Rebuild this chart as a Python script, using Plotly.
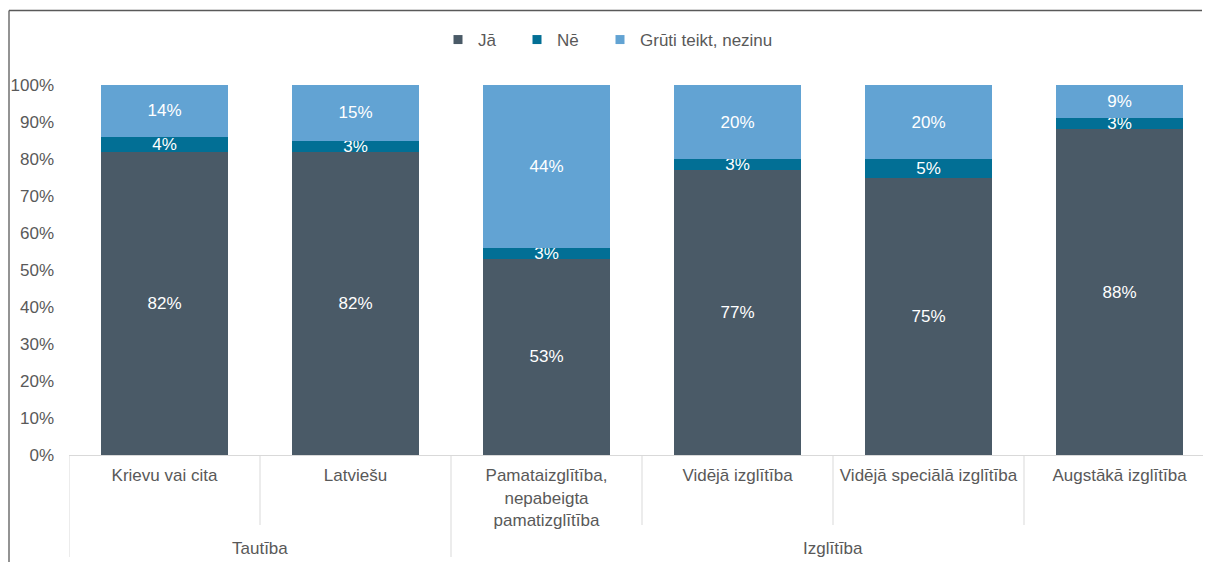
import plotly.graph_objects as go

categories = ["Krievu vai cita", "Latviešu",
              "Pamataizglītība,<br>nepabeigta<br>pamatizglītība",
              "Vidējā izglītība", "Vidējā speciālā izglītība", "Augstākā izglītība"]
groups = ["Tautība", "Izglītība"]
group_sizes = [2, 4]
series_names = ["Jā", "Nē", "Grūti teikt, nezinu"]
ja = [82, 82, 53, 77, 75, 88]
ne = [4, 3, 3, 3, 5, 3]
gruti = [14, 15, 44, 20, 20, 9]
colors = ["#4A5A67", "#026F95", "#62A3D3"]
ytick_vals = [0, 10, 20, 30, 40, 50, 60, 70, 80, 90, 100]
ytick_text = [f"{v}%" for v in ytick_vals]

FONT = "Liberation Sans, Arial, sans-serif"
GRAY = "#595959"

# page offset of the plot div (browser body margin); keep the figure inside the window
OFF = 8
PAGE_W, PAGE_H = 1211, 571
W, H = PAGE_W - 2 * OFF, PAGE_H - 2 * OFF
plot_left, plot_top, plot_bottom = 69, 85, 455
L = plot_left - OFF
T = plot_top - OFF
ph = plot_bottom - plot_top
B = H - T - ph
R = 0
pw = W - L - R
unit = 191.0
xmax = -0.5 + pw / unit
fig_right_page = OFF + W
fig_bottom_page = OFF + H


def py(page_y):
    return (plot_bottom - page_y) / ph


def px(page_x):
    return (page_x - plot_left) / pw


legend_text_x = [478, 557, 640]
legend_ids = ["legend", "legend2", "legend3"]

fig = go.Figure()
for name, vals, col, lid in zip(series_names, [ja, ne, gruti], colors, legend_ids):
    fig.add_trace(go.Bar(
        x=categories, y=vals, name=name, marker=dict(color=col, line=dict(width=0)),
        text=[f"{v}%" for v in vals], textposition="inside", insidetextanchor="middle",
        textangle=0, textfont=dict(color="white", size=17, family=FONT),
        showlegend=False, hoverinfo="skip"))
    # legend entry with small square marker
    fig.add_trace(go.Scatter(
        x=[None], y=[None], mode="markers", name=name, legend=lid,
        marker=dict(symbol="square", size=9, color=col), showlegend=True))

shapes = []
for i in range(len(categories)):
    xpos = i - 0.5
    outer = xpos in (-0.5, 1.5)
    shapes.append(dict(type="line", xref="x", yref="paper", x0=xpos, x1=xpos,
                       y0=0, y1=py(557 if outer else 525),
                       line=dict(color="#D9D9D9", width=1)))
# outer frame: only its left and top edges fall inside the picture
frame_x, frame_y = OFF + 1, 10.5
shapes.append(dict(type="line", xref="paper", yref="paper",
                   x0=px(frame_x), x1=px(frame_x), y0=py(frame_y), y1=py(fig_bottom_page - 1),
                   line=dict(color="#595959", width=1.3)))
shapes.append(dict(type="line", xref="paper", yref="paper",
                   x0=px(frame_x), x1=px(fig_right_page - 1), y0=py(frame_y), y1=py(frame_y),
                   line=dict(color="#595959", width=1.3)))

annotations = []
start = 0
for g, n in zip(groups, group_sizes):
    center = start + (n - 1) / 2
    annotations.append(dict(text=g, x=center, xref="x", y=py(548), yref="paper",
                            showarrow=False, yanchor="middle",
                            font=dict(size=17, color=GRAY, family=FONT)))
    start += n

legend_common = dict(orientation="h", xanchor="left", y=py(40), yanchor="middle",
                     font=dict(size=17, color=GRAY, family=FONT), itemclick=False,
                     itemdoubleclick=False, bgcolor="rgba(0,0,0,0)")

fig.update_layout(
    width=W, height=H,
    margin=dict(l=L, r=R, t=T, b=B, pad=0),
    barmode="stack", bargap=0.33,
    plot_bgcolor="white", paper_bgcolor="white",
    font=dict(family=FONT, size=17, color=GRAY),
    showlegend=True,
    legend=dict(x=px(legend_text_x[0] - 40), **legend_common),
    legend2=dict(x=px(legend_text_x[1] - 40), **legend_common),
    legend3=dict(x=px(legend_text_x[2] - 40), **legend_common),
    xaxis=dict(range=[-0.5, xmax], showgrid=False, zeroline=False, showline=True,
               linecolor="#D9D9D9", linewidth=1, ticks="", ticklabelstandoff=5,
               tickfont=dict(size=17, color=GRAY, family=FONT), fixedrange=True),
    yaxis=dict(range=[0, 100], tickvals=ytick_vals, ticktext=ytick_text, showgrid=False,
               zeroline=False, showline=False, ticks="", ticklabelstandoff=14,
               tickfont=dict(size=17, color=GRAY, family=FONT), fixedrange=True),
    uniformtext=dict(minsize=17, mode="show"),
    shapes=shapes, annotations=annotations,
)

fig.write_html("out.html", config={"displayModeBar": False})
